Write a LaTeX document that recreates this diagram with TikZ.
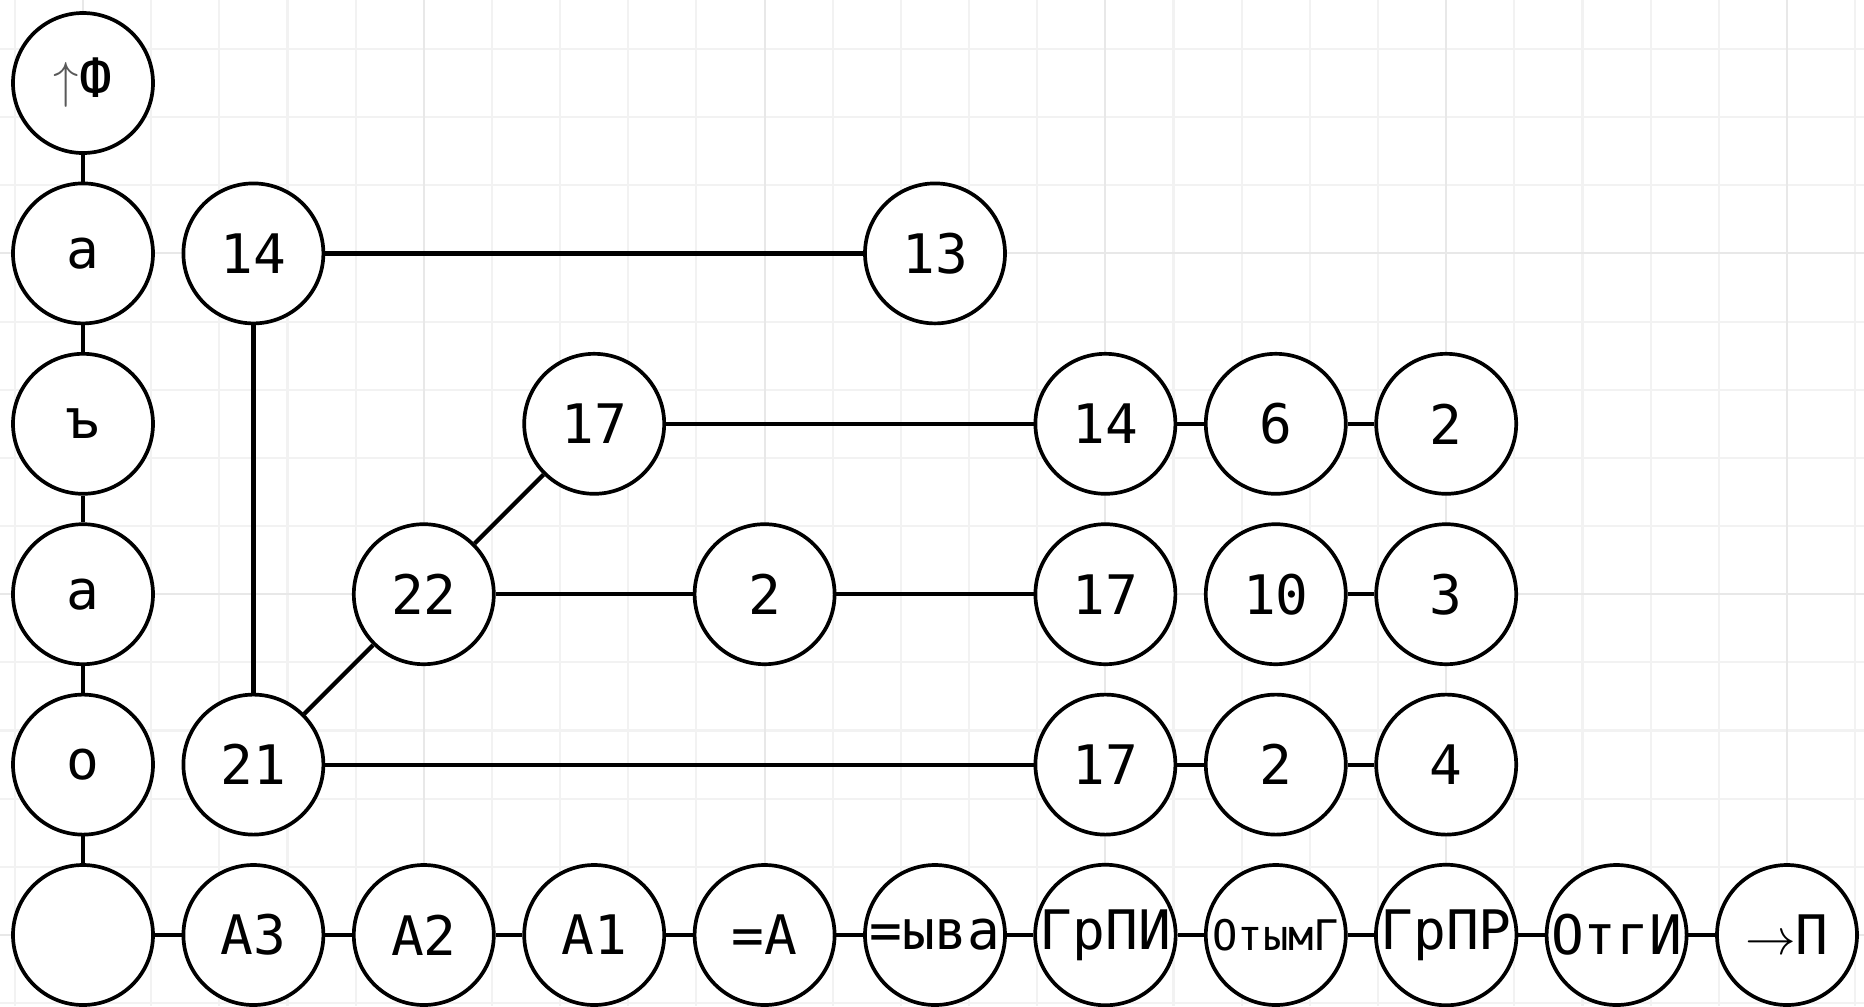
\documentclass[tikz,border=0pt]{standalone}
\usepackage{fontspec}
\setmonofont{DejaVu Sans Mono}
\tikzset{vertex/.style = {circle, draw, fill=white, line width=1.05pt,
                          minimum size=1.4cm, inner sep=0pt,
                          font=\ttfamily\fontsize{15.5}{18}\selectfont}}
\tikzset{smalltext/.style = {font=\ttfamily\fontsize{12}{14}\selectfont}}
\tikzset{link/.style = {line width=1.2pt}}
\tikzset{minorgrid/.style = {draw=black!5, line width=0.6pt}}
\tikzset{majorgrid/.style = {draw=black!9, line width=0.6pt}}

\begin{document}
\begin{tikzpicture}[x=1.704cm, y=-1.704cm]
    \useasboundingbox (-0.4871, -0.4871) rectangle (10.452, 5.4167);
    \fill [white] (-0.4871, -0.4871) rectangle (10.452, 5.4167);
    % grid
    \foreach \i in {-1,...,26} {
        \draw [minorgrid] (0.4*\i, -0.4871) -- (0.4*\i, 5.4167);
    }
    \foreach \j in {0,...,14} {
        \draw [minorgrid] (-0.4871, -0.2 + 0.4*\j) -- (10.452, -0.2 + 0.4*\j);
    }
    \foreach \i in {0,2,...,10} {
        \draw [majorgrid] (\i, -0.4871) -- (\i, 5.4167);
    }
    \foreach \j in {1,3,5} {
        \draw [majorgrid] (-0.4871, \j) -- (10.452, \j);
    }

    % left column
    \node [vertex] (up)   at (0, 0) {\textcolor{black!65}{$\uparrow$}Ф};
    \node [vertex] (ka)   at (0, 1) {а};
    \node [vertex] (kb)   at (0, 2) {ъ};
    \node [vertex] (kc)   at (0, 3) {а};
    \node [vertex] (kd)   at (0, 4) {о};
    \node [vertex] (base) at (0, 5) {};

    % bottom row
    \node [vertex] (bA3)   at (1, 5)  {А3};
    \node [vertex] (bA2)   at (2, 5)  {А2};
    \node [vertex] (bA1)   at (3, 5)  {А1};
    \node [vertex] (bEqA)  at (4, 5)  {=А};
    \node [vertex] (bEq)   at (5, 5)  {=ыва};
    \node [vertex] (bGrPI) at (6, 5)  {ГрПИ};
    \node [vertex, smalltext] (bOt) at (7, 5) {ОтымГ};
    \node [vertex] (bGrPR) at (8, 5)  {ГрПР};
    \node [vertex] (bOtg)  at (9, 5)  {ОтгИ};
    \node [vertex] (bP)    at (10, 5) {$\rightarrow$П};

    % tree
    \node [vertex] (n14) at (1, 1) {14};
    \node [vertex] (n13) at (5, 1) {13};
    \node [vertex] (n17) at (3, 2) {17};
    \node [vertex] (n22) at (2, 3) {22};
    \node [vertex] (n2)  at (4, 3) {2};
    \node [vertex] (n21) at (1, 4) {21};

    % lists
    \node [vertex] (r14) at (6, 2) {14};
    \node [vertex] (r6)  at (7, 2) {6};
    \node [vertex] (r2)  at (8, 2) {2};
    \node [vertex] (s17) at (6, 3) {17};
    \node [vertex] (s10) at (7, 3) {10};
    \node [vertex] (s3)  at (8, 3) {3};
    \node [vertex] (t17) at (6, 4) {17};
    \node [vertex] (t2)  at (7, 4) {2};
    \node [vertex] (t4)  at (8, 4) {4};

    \draw [link] (up) -- (ka) -- (kb) -- (kc) -- (kd) -- (base);
    \draw [link] (base) -- (bA3) -- (bA2) -- (bA1) -- (bEqA) -- (bEq) -- (bGrPI);
    \draw [link] (bGrPI) -- (bOt) -- (bGrPR) -- (bOtg) -- (bP);
    \draw [link] (n14) -- (n13);
    \draw [link] (n14) -- (n21);
    \draw [link] (n21) -- (n22);
    \draw [link] (n22) -- (n17);
    \draw [link] (n17) -- (r14) -- (r6) -- (r2);
    \draw [link] (n22) -- (n2) -- (s17);
    \draw [link] (s10) -- (s3);
    \draw [link] (n21) -- (t17) -- (t2) -- (t4);
\end{tikzpicture}
\end{document}
